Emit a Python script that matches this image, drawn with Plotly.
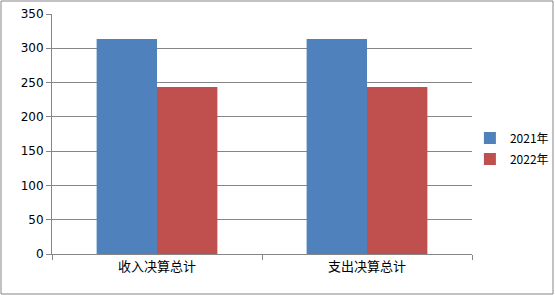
import plotly.graph_objects as go

categories = ["收入决算总计", "支出决算总计"]
series_names = ["2021年", "2022年"]
values_2021 = [313.6, 313.6]
values_2022 = [243.6, 243.6]
colors = ["#4F81BD", "#C0504D"]

fig = go.Figure()
for name, vals, c in zip(series_names, [values_2021, values_2022], colors):
    fig.add_trace(go.Bar(x=categories, y=vals, name=name, legendgroup=name,
                         marker=dict(color=c, line=dict(width=0))))

axis_color = "#868686"
fig.update_layout(
    width=555, height=295,
    margin=dict(l=52, r=83, t=14, b=41, autoexpand=False),
    paper_bgcolor="white", plot_bgcolor="white",
    barmode="group", bargap=0.425, bargroupgap=0,
    font=dict(family="Noto Sans CJK SC, DejaVu Sans, sans-serif", size=12, color="#000000"),
    legend=dict(x=0.995, y=0.44, xanchor="left", yanchor="middle",
                font=dict(size=12), itemwidth=30, tracegroupgap=2,
                bgcolor="rgba(0,0,0,0)"),
    shapes=[dict(type="rect", xref="paper", yref="paper",
                 x0=-51/420, x1=1 + 81/420, y0=-40/240, y1=1 + 13/240,
                 line=dict(color=axis_color, width=1), fillcolor="rgba(0,0,0,0)", layer="below")],
)
fig.update_xaxes(type="category", showline=True, linecolor=axis_color, linewidth=1,
                 ticks="outside", tickson="boundaries", ticklen=5, tickcolor=axis_color,
                 showgrid=False, tickfont=dict(size=13))
fig.update_yaxes(range=[0, 350], dtick=50, showline=True, linecolor=axis_color, linewidth=1,
                 ticks="outside", ticklen=5, tickcolor=axis_color,
                 showgrid=True, gridcolor=axis_color, gridwidth=1, zeroline=False,
                 tickfont=dict(size=12, family="DejaVu Sans, sans-serif"))

fig.write_html("out.html")
